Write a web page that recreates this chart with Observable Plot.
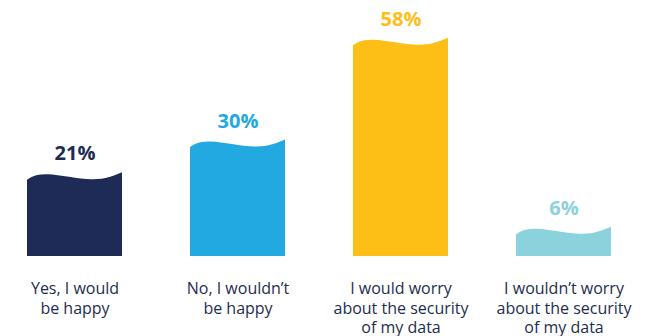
<!DOCTYPE html>
<html>
<head>
<meta charset="utf-8">
<script src="https://cdn.jsdelivr.net/npm/d3@7"></script>
<script src="https://cdn.jsdelivr.net/npm/@observablehq/plot@0.6"></script>
<style>
  html, body { margin: 0; padding: 0; background: #fff; }
  #chart { width: 648px; height: 336px; overflow: hidden; }
</style>
</head>
<body>
<div id="chart"></div>
<script>
const categories = [
  "Yes, I would\nbe happy",
  "No, I wouldn’t\nbe happy",
  "I would worry\nabout the security\nof my data",
  "I wouldn’t worry\nabout the security\nof my data"
];
const values = [21, 30, 58, 6];
const labels = ["21%", "30%", "58%", "6%"];
const colors = ["#1f2b57", "#22a9e1", "#fdbe16", "#8bd2dd"];

const data = categories.map((c, i) => ({cat: c, value: values[i], label: labels[i], color: colors[i]}));

// wavy top (style): relative x fraction, px offset above the bar top
const wave = [[0, 0], [0.22, -5.5], [0.68, -0.5], [1, -7.5]];

function wavyRender(index, scales, values, dimensions, context, next) {
  const g = next(index, scales, values, dimensions, context);
  const line = d3.line().curve(d3.curveNatural);
  d3.select(g).selectAll("rect").each(function() {
    const r = d3.select(this);
    const x = +r.attr("x"), y = +r.attr("y"), w = +r.attr("width"), h = +r.attr("height");
    const top = wave.map(([t, dy]) => [x + t * w, y + dy]);
    const d = "M" + x + "," + (y + h) + "L" + line(top).slice(1) + "L" + (x + w) + "," + (y + h) + "Z";
    const p = document.createElementNS("http://www.w3.org/2000/svg", "path");
    p.setAttribute("d", d);
    p.setAttribute("fill", r.attr("fill"));
    this.parentNode.replaceChild(p, this);
  });
  return g;
}

const chart = Plot.plot({
  width: 648,
  height: 336,
  marginLeft: 25,
  marginRight: 36,
  marginTop: 38,
  marginBottom: 80,
  style: {fontFamily: "'Open Sans', sans-serif", background: "#fff", overflow: "visible"},
  x: {domain: categories, paddingInner: 0.42, paddingOuter: 0, label: null},
  y: {domain: [0, 60], axis: null},
  color: {type: "identity"},
  marks: [
    Plot.barY(data, {x: "cat", y: "value", fill: "color", render: wavyRender}),
    Plot.text(data, {
      x: "cat", y: "value", text: "label", fill: "color",
      dy: -20, lineAnchor: "bottom", fontSize: 20, fontWeight: 700
    }),
    Plot.axisX({
      tickSize: 0, tickPadding: 24, fontSize: 16, lineHeight: 1.22,
      lineAnchor: "top", fill: "#1e2d4f", label: null
    })
  ]
});
document.getElementById("chart").appendChild(chart);
</script>
</body>
</html>
